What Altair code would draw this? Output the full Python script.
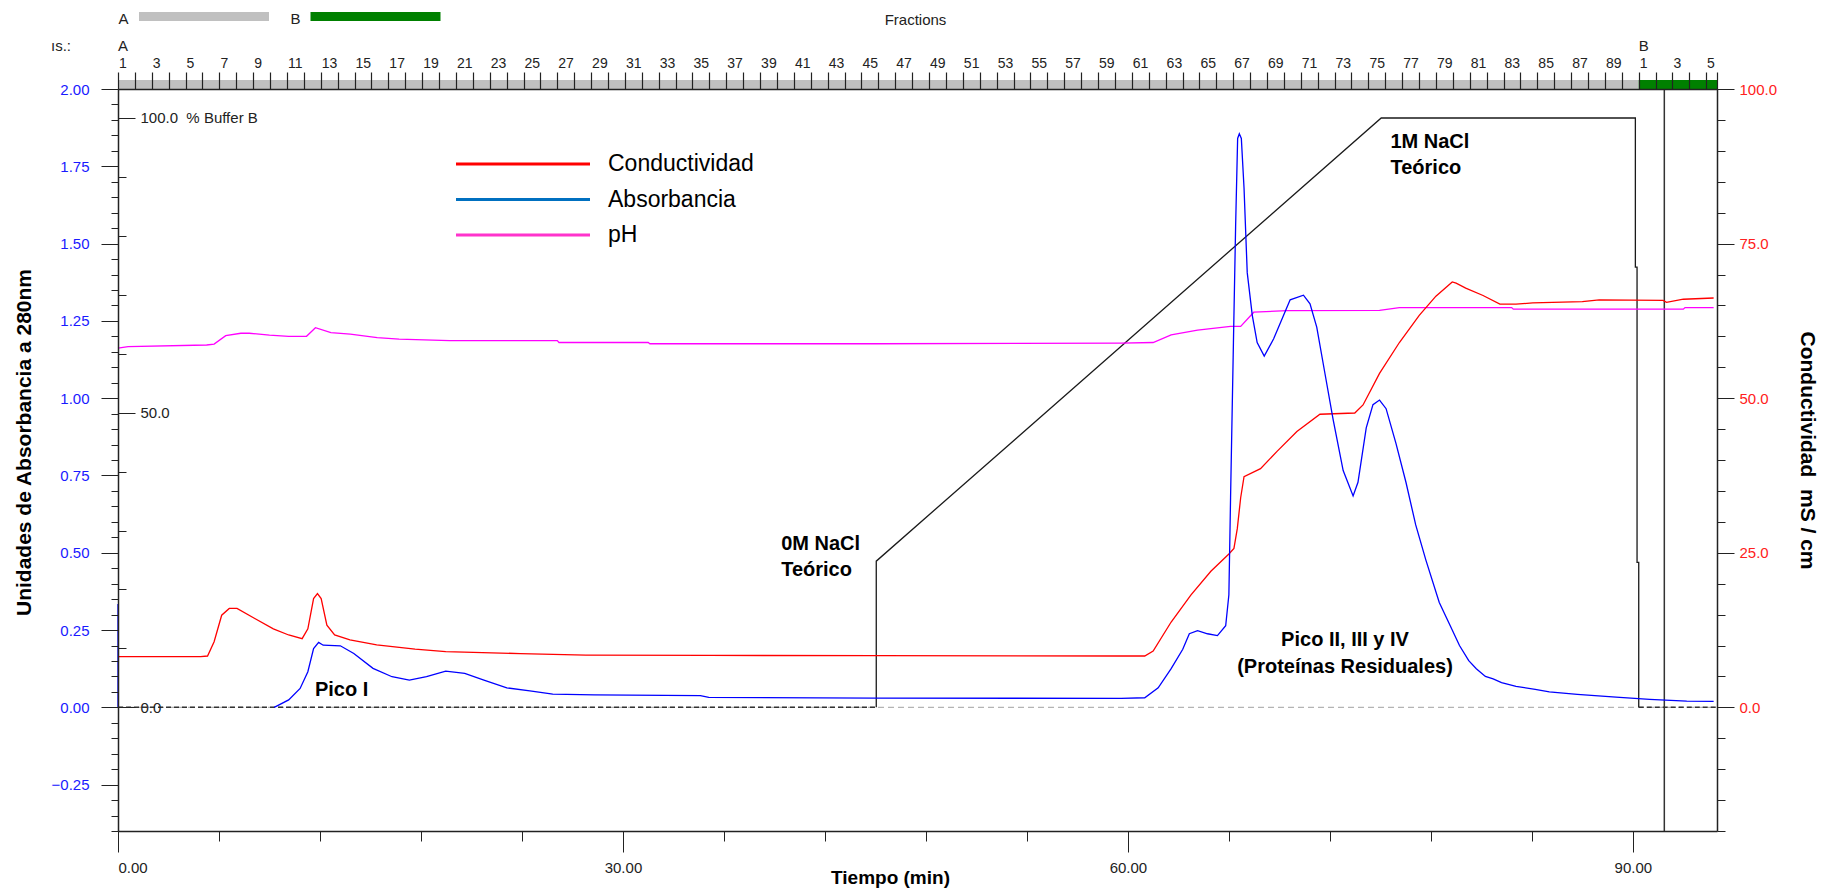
import altair as alt
import pandas as pd

# ---------------- data ----------------
# Absorbance 280 nm (left axis units)
abs_spike_t = [0.0, 0.0]
abs_spike_v = [0.334, 0.0]
abs_t = [9.28, 10.14, 10.82, 11.28, 11.62, 11.92, 12.19, 13.21, 14.01, 15.15, 16.28, 17.31, 18.33,
         19.47, 20.6, 21.74, 23.1, 24.47, 25.83, 28.3, 34.6, 35.1, 45.0, 59.6, 61.0, 61.8, 62.57,
         63.26, 63.65, 64.14, 64.73, 65.32, 65.81, 66.0, 66.1, 66.27, 66.4, 66.52, 66.62, 66.74, 66.9,
         67.09, 67.39, 67.68, 68.1, 68.66, 69.25, 69.64, 70.43, 70.82, 71.22, 71.71, 72.2, 72.79,
         73.38, 73.67, 74.16, 74.56, 74.95, 75.34, 75.93, 76.52, 77.1, 77.7, 78.5, 79.27, 79.7,
         80.25, 80.7, 81.24, 81.7, 82.2, 83.06, 84.2, 85.04, 86.7, 89.0, 91.0, 93.2, 94.8]
abs_v = [0.0, 0.024, 0.061, 0.115, 0.19, 0.21, 0.201, 0.199, 0.174, 0.126, 0.099, 0.088, 0.099,
         0.117, 0.11, 0.088, 0.063, 0.053, 0.043, 0.040, 0.038, 0.032, 0.030, 0.029, 0.031, 0.063,
         0.125, 0.188, 0.238, 0.248, 0.238, 0.232, 0.264, 0.364, 0.678, 1.18, 1.556, 1.84, 1.855,
         1.84, 1.68, 1.406, 1.268, 1.18, 1.136, 1.192, 1.268, 1.318, 1.333, 1.305, 1.23, 1.079, 0.929,
         0.766, 0.684, 0.728, 0.904, 0.979, 0.994, 0.966, 0.853, 0.728, 0.59, 0.477, 0.339, 0.25,
         0.2, 0.151, 0.125, 0.1, 0.092, 0.08, 0.068, 0.058, 0.05, 0.042, 0.033, 0.026, 0.02, 0.019]

# Conductivity (mS/cm, right axis)
cond_t = [0.0, 4.91, 5.32, 5.71, 6.16, 6.61, 7.07, 8.1, 9.23, 10.14, 10.94, 11.28, 11.62, 11.85,
          12.07, 12.41, 12.87, 13.78, 15.37, 17.65, 19.47, 23.9, 27.8, 35.1, 45.0, 59.6, 61.0,
          61.5, 62.57, 63.75, 64.93, 66.0, 66.3, 66.5, 66.7, 66.9, 67.88, 68.86, 70.04, 71.41,
          73.48, 73.97, 74.95, 76.13, 77.31, 78.3, 79.27, 79.5, 80.07, 81.1, 82.1, 83.06, 84.05,
          87.0, 88.0, 91.8, 92.0, 93.0, 94.8]
cond_v = [8.2, 8.2, 8.3, 10.6, 14.9, 16.0, 16.0, 14.4, 12.7, 11.7, 11.1, 12.7, 17.6, 18.4, 17.6,
          13.3, 11.7, 10.9, 10.1, 9.4, 9.0, 8.7, 8.45, 8.4, 8.35, 8.3, 8.3, 9.1, 13.8, 18.2, 22.0,
          24.8, 25.7, 28.9, 33.9, 37.3, 38.6, 41.4, 44.6, 47.4, 47.6, 48.9, 54.0, 59.0, 63.4, 66.5,
          68.8, 68.6, 67.8, 66.6, 65.2, 65.2, 65.4, 65.6, 65.9, 65.8, 65.5, 66.0, 66.2]

# pH trace (drawn in left-axis units, no own axis)
ph_t = [0.0, 0.6, 5.27, 5.71, 6.4, 7.3, 7.8, 9.0, 10.14, 11.2, 11.73, 12.65, 13.8, 15.4, 16.7,
        19.7, 26.1, 26.2, 31.5, 31.6, 45.0, 59.6, 61.5, 62.57, 64.14, 66.1, 66.7, 67.48, 69.45,
        74.95, 76.13, 82.8, 82.9, 93.0, 93.1, 94.8]
ph_v = [1.162, 1.167, 1.172, 1.175, 1.202, 1.21, 1.21, 1.204, 1.20, 1.20, 1.228, 1.212, 1.207,
        1.196, 1.191, 1.186, 1.186, 1.18, 1.18, 1.176, 1.176, 1.178, 1.18, 1.205, 1.22, 1.232,
        1.232, 1.278, 1.283, 1.284, 1.293, 1.293, 1.288, 1.288, 1.293, 1.293]

# % Buffer B gradient
pb_t = [45.05, 45.05, 75.05, 90.15, 90.15, 90.25, 90.25, 90.35, 90.35]
pb_v = [0.0, 24.8, 100.0, 100.0, 74.7, 74.7, 24.6, 24.6, 0.0]
pb_zero_start = [0.0, 90.35]
pb_zero_end = [45.05, 95.0]

marker_t = [91.87]

# Fraction collector ruler
frac_a_count = 90
frac_a_len = 90.35 / 90
frac_b_start = [90.35, 91.35, 92.35, 93.35, 94.35]
frac_end = 95.0

# annotations (time, absorbance units)
ann_text = ["0M NaCl", "Teórico", "1M NaCl", "Teórico", "Pico I"]
ann_t = [39.4, 39.4, 75.6, 75.6, 11.7]
ann_y = [0.528, 0.445, 1.83, 1.743, 0.057]
ann2_text = ["Pico II, III y IV", "(Proteínas Residuales)"]
ann2_t = [72.9, 72.9]
ann2_y = [0.219, 0.132]

legend_names = ["Conductividad", "Absorbancia", "pH"]
legend_colors = ["#ff0000", "#0070c0", "#ff33cc"]
legend_rank = [0, 1, 2]

# ---------------- layout ----------------
W, H = 1599, 742
T_DOM = [0, 95]
ABS_DOM = [-0.40, 2.00]
COND_DOM = [-20, 100]
PB_DOM = [-20.99, 104.92]
TICKF = "Liberation Sans, Arial, Helvetica, sans-serif"
SANS = "Liberation Sans, Arial, Helvetica, sans-serif"
INK = "#222222"


def xsc():
    return alt.Scale(domain=T_DOM, nice=False, zero=False)


def ysc(dom):
    return alt.Scale(domain=dom, nice=False, zero=False)


abs_df = pd.concat([
    pd.DataFrame({"t": abs_spike_t, "v": abs_spike_v, "seg": "a"}),
    pd.DataFrame({"t": abs_t, "v": abs_v, "seg": "b"}),
], ignore_index=True)
cond_df = pd.DataFrame({"t": cond_t, "v": cond_v})
ph_df = pd.DataFrame({"t": ph_t, "v": ph_v})
pb_df = pd.DataFrame({"t": pb_t, "v": pb_v, "i": list(range(len(pb_t)))})
pbz_df = pd.DataFrame({"t": pb_zero_start, "t2": pb_zero_end, "v": [0.0, 0.0]})
base_df = pd.DataFrame({"v": [0.0]})
mark_df = pd.DataFrame({"t": marker_t})

frac_a_start = [round(i * frac_a_len, 3) for i in range(frac_a_count)]
frac_ticks = frac_a_start + frac_b_start + [frac_end]
band_df = pd.DataFrame({"t": [0.0, frac_b_start[0]], "t2": [frac_b_start[0], frac_end],
                        "c": ["#c0c0c0", "#008000"]})
lab_t, lab_s = [], []
for i, s in enumerate(frac_a_start):
    if (i + 1) % 2 == 1:
        lab_t.append(s); lab_s.append(str(i + 1))
for i, s in enumerate(frac_b_start):
    if (i + 1) % 2 == 1:
        lab_t.append(s); lab_s.append(str(i + 1))
flab_df = pd.DataFrame({"t": lab_t, "s": lab_s})
ab_df = pd.DataFrame({"t": [0.0, frac_b_start[0]], "s": ["A", "B"]})
ann_df = pd.DataFrame({"t": ann_t, "y": ann_y, "s": ann_text})
ann2_df = pd.DataFrame({"t": ann2_t, "y": ann2_y, "s": ann2_text})
leg_df = pd.DataFrame({"name": legend_names, "color": legend_colors, "k": legend_rank})

# ---------------- axes ----------------
ax_left_major = alt.Axis(
    orient="left", values=[-0.25 + 0.25 * k for k in range(10)], format=".2f",
    tickSize=17, tickColor=INK, labelPadding=12, labelColor="#1a1aff", labelFont=TICKF,
    labelFontSize=15, domainColor=INK, domainWidth=1.5, grid=False, zindex=1,
    title="Unidades de Absorbancia a 280nm", titleFont=SANS, titleFontSize=21,
    titleFontWeight="bold", titleColor="black", titleX=-94, titleY=353,
    titleBaseline="middle", titleAngle=-90)
ax_left_minor = alt.Axis(
    orient="left", values=[round(-0.40 + 0.05 * k, 2) for k in range(49)], tickSize=7,
    tickColor=INK, labels=False, domain=False, grid=False, title=None, zindex=1)
ax_pb_major = alt.Axis(
    orient="right", offset=-W, values=[0, 50, 100], tickSize=17, tickColor=INK,
    labelPadding=5, labelFont=TICKF, labelFontSize=15, labelColor=INK,
    labelExpr="datum.value == 100 ? '100.0\u00a0\u00a0%\u00a0Buffer\u00a0B' : format(datum.value, '.1f')",
    domain=False, grid=False, title=None, zindex=1)
ax_pb_minor = alt.Axis(
    orient="right", offset=-W, values=[10, 20, 30, 40, 60, 70, 80, 90], tickSize=8,
    tickColor=INK, labels=False, domain=False, grid=False, title=None, zindex=1)
ax_right_major = alt.Axis(
    orient="right", values=[0, 25, 50, 75, 100], format=".1f", tickSize=17, tickColor=INK,
    labelPadding=5, labelColor="#ff2020", labelFont=TICKF, labelFontSize=15,
    domainColor=INK, domainWidth=1.5, grid=False, zindex=1,
    title="Conductividad\u00a0\u00a0mS / cm", titleFont=SANS, titleFontSize=21,
    titleFontWeight="bold", titleColor="black", titleX=89, titleY=361,
    titleBaseline="middle", titleAngle=90)
ax_right_minor = alt.Axis(
    orient="right", values=[-20 + 5 * k for k in range(25)], tickSize=8, tickColor=INK,
    labels=False, domain=False, grid=False, title=None, zindex=1)
ax_bottom_major = alt.Axis(
    orient="bottom", values=[0, 30, 60, 90], format=".2f", tickSize=21, tickColor=INK,
    labelPadding=8, labelFont=TICKF, labelFontSize=15, labelColor=INK, domainColor=INK,
    domainWidth=1.5, grid=False, zindex=1,
    title="Tiempo (min)", titleFont=SANS, titleFontSize=19, titleFontWeight="bold",
    titleColor="black", titleX=772, titleY=46, titleBaseline="middle")
ax_bottom_minor = alt.Axis(
    orient="bottom", values=[6, 12, 18, 24, 36, 42, 48, 54, 66, 72, 78, 84], tickSize=10,
    tickColor=INK, labels=False, domain=False, grid=False, title=None, zindex=1)
ax_top_frac = alt.Axis(
    orient="top", values=frac_ticks, tickSize=17, tickColor=INK, tickWidth=1.2,
    labels=False, domainColor=INK, domainWidth=1.5, grid=False, title=None, zindex=2)

# ---------------- layers ----------------
baseline = alt.Chart(base_df).mark_rule(color="#b4b4b4", strokeDash=[6, 4], strokeWidth=1.3).encode(
    x=alt.value(0), x2=alt.value(W),
    y=alt.Y("v:Q", scale=ysc(ABS_DOM), axis=ax_left_minor))

pb_zero = alt.Chart(pbz_df).mark_rule(color="#333333", strokeDash=[5, 3], strokeWidth=1.4).encode(
    x=alt.X("t:Q", scale=xsc(), axis=ax_bottom_minor), x2="t2:Q",
    y=alt.Y("v:Q", scale=ysc(PB_DOM), axis=ax_pb_minor))

pb_line = alt.Chart(pb_df).mark_line(color="#1a1a1a", strokeWidth=1.3).encode(
    x=alt.X("t:Q", scale=xsc(), axis=ax_bottom_major),
    y=alt.Y("v:Q", scale=ysc(PB_DOM), axis=ax_pb_major),
    order="i:Q")

bands = alt.Chart(band_df).mark_rect().encode(
    x=alt.X("t:Q", scale=xsc(), axis=None), x2="t2:Q",
    y=alt.value(-9), y2=alt.value(0),
    color=alt.Color("c:N", scale=None))

marker = alt.Chart(mark_df).mark_rule(color="#333333", strokeWidth=1.5).encode(
    x=alt.X("t:Q", scale=xsc(), axis=ax_top_frac),
    y=alt.value(0), y2=alt.value(H))

ph_line = alt.Chart(ph_df).mark_line(color="#ff00ff", strokeWidth=1.3).encode(
    x=alt.X("t:Q", scale=xsc(), axis=None),
    y=alt.Y("v:Q", scale=ysc(ABS_DOM), axis=None))

cond_line = alt.Chart(cond_df).mark_line(color="#ff0000", strokeWidth=1.3).encode(
    x=alt.X("t:Q", scale=xsc(), axis=None),
    y=alt.Y("v:Q", scale=ysc(COND_DOM), axis=ax_right_major))

cond_ticks = alt.Chart(cond_df).mark_line(opacity=0).encode(
    x=alt.X("t:Q", scale=xsc(), axis=None),
    y=alt.Y("v:Q", scale=ysc(COND_DOM), axis=ax_right_minor))

abs_line = alt.Chart(abs_df).mark_line(color="#0000ff", strokeWidth=1.3).encode(
    x=alt.X("t:Q", scale=xsc(), axis=None),
    y=alt.Y("v:Q", scale=ysc(ABS_DOM), axis=ax_left_major),
    detail="seg:N")

frac_labels = alt.Chart(flab_df).mark_text(
    align="left", baseline="middle", dx=1, font=TICKF, fontSize=14, color=INK).encode(
    x=alt.X("t:Q", scale=xsc(), axis=None), y=alt.value(-25), text="s:N")

ab_labels = alt.Chart(ab_df).mark_text(
    align="left", baseline="middle", dx=0, font=TICKF, fontSize=15, color=INK).encode(
    x=alt.X("t:Q", scale=xsc(), axis=None), y=alt.value(-43), text="s:N")

ann = alt.Chart(ann_df).mark_text(
    align="left", baseline="middle", font=SANS, fontSize=20, fontWeight="bold", color="black").encode(
    x=alt.X("t:Q", scale=xsc(), axis=None),
    y=alt.Y("y:Q", scale=ysc(ABS_DOM), axis=None), text="s:N")

ann2 = alt.Chart(ann2_df).mark_text(
    align="center", baseline="middle", font=SANS, fontSize=20, fontWeight="bold", color="black").encode(
    x=alt.X("t:Q", scale=xsc(), axis=None),
    y=alt.Y("y:Q", scale=ysc(ABS_DOM), axis=None), text="s:N")

leg_y = alt.Scale(domain=[0, 2], range=[75, 146], nice=False, zero=False)
leg_lines = alt.Chart(leg_df).mark_rule(strokeWidth=3).encode(
    x=alt.value(338), x2=alt.value(472),
    y=alt.Y("k:Q", scale=leg_y, axis=None),
    color=alt.Color("color:N", scale=None))
leg_text = alt.Chart(leg_df).mark_text(
    align="left", baseline="middle", font=SANS, fontSize=23, color="black").encode(
    x=alt.value(490), y=alt.Y("k:Q", scale=leg_y, axis=None), text="name:N")

# top header (fraction-bar key)
hdr_a = alt.Chart(base_df).mark_text(text="A", align="center", baseline="middle",
                                     font=TICKF, fontSize=15, color=INK).encode(
    x=alt.value(5.5), y=alt.value(-70))
hdr_abar = alt.Chart(base_df).mark_rect(color="#c0c0c0").encode(
    x=alt.value(21), x2=alt.value(151), y=alt.value(-77), y2=alt.value(-68))
hdr_b = alt.Chart(base_df).mark_text(text="B", align="center", baseline="middle",
                                     font=TICKF, fontSize=15, color=INK).encode(
    x=alt.value(177.5), y=alt.value(-70))
hdr_bbar = alt.Chart(base_df).mark_rect(color="#008000").encode(
    x=alt.value(192.5), x2=alt.value(322.5), y=alt.value(-77), y2=alt.value(-68))
hdr_frac = alt.Chart(base_df).mark_text(text="Fractions", align="center", baseline="middle",
                                        font=TICKF, fontSize=15, color=INK).encode(
    x=alt.value(797.5), y=alt.value(-69))
hdr_ns = alt.Chart(base_df).mark_text(text="ıs.:", align="center", baseline="middle",
                                      font=TICKF, fontSize=15, color=INK).encode(
    x=alt.value(-57), y=alt.value(-43))

chart = alt.layer(
    baseline, pb_zero, pb_line, bands, marker, ph_line, cond_line, cond_ticks, abs_line,
    frac_labels, ab_labels, ann, ann2, leg_lines, leg_text,
    hdr_a, hdr_abar, hdr_b, hdr_bbar, hdr_frac, hdr_ns,
).resolve_scale(
    x="independent", y="independent", color="independent"
).resolve_axis(
    x="independent", y="independent"
).properties(
    width=W, height=H,
    padding={"left": 118, "top": 89, "right": 116, "bottom": 61},
    autosize=alt.AutoSizeParams(type="none"),
    background="white",
).configure_view(stroke=None)

chart.save("out.html", embed_options={"renderer": "svg", "actions": False})
